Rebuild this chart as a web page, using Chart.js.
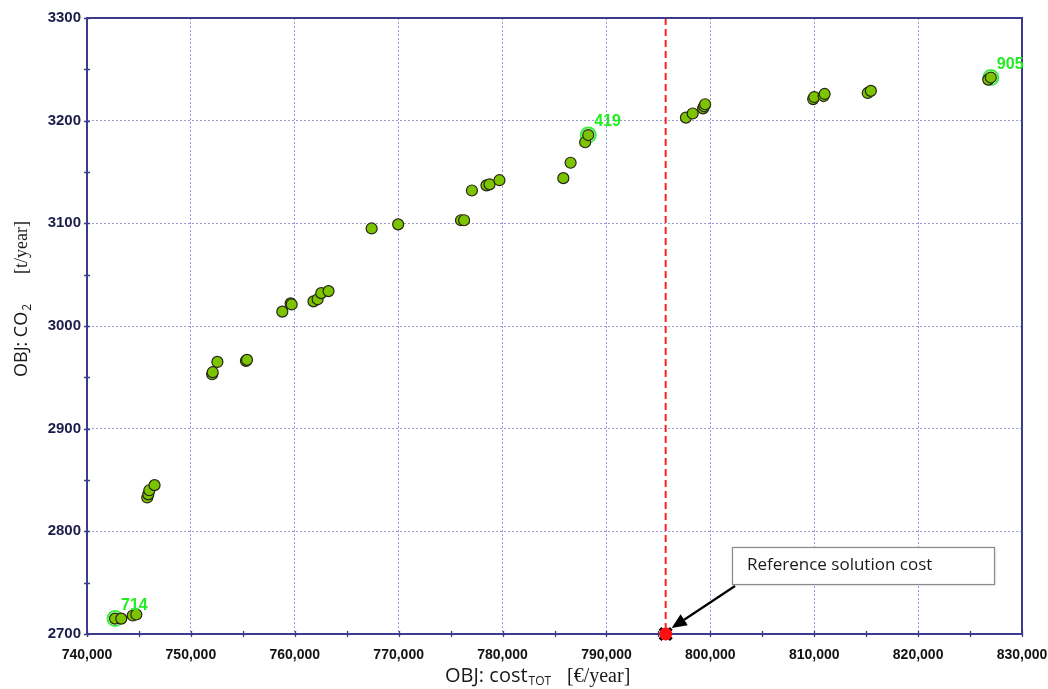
<!DOCTYPE html>
<html>
<head>
<meta charset="utf-8">
<script src="https://cdn.jsdelivr.net/npm/chart.js@4.4.1/dist/chart.umd.min.js"></script>
<style>
  html, body { margin: 0; padding: 0; background: #ffffff; }
  #wrap { width: 1048px; height: 689px; position: relative; }
</style>
</head>
<body>
<div id="wrap"><canvas id="chart" width="1048" height="689"></canvas></div>
<script>
// Pareto front of the optimisation: total cost vs CO2 emissions
const solutionCost = [
  742700, 743300, 744400, 744750,
  745800, 745900, 746000, 746500,
  752050, 752100, 752550, 755300, 755400,
  758800, 759600, 759700, 761800, 762200, 762550, 763250,
  767400, 769950, 776000, 776300, 777050, 778450, 778750, 779700,
  785850, 786550, 787950, 788250,
  797650, 798300, 799300, 799400, 799500,
  809900, 810000, 810900, 811000, 815150, 815450,
  826750, 827000
];
const solutionCO2 = [
  2715, 2715, 2718, 2719,
  2833, 2836, 2840, 2845,
  2953, 2955, 2965, 2966, 2967,
  3014, 3022, 3021, 3024, 3026, 3032, 3034,
  3095, 3099, 3103, 3103, 3132, 3137, 3138, 3142,
  3144, 3159, 3179, 3186,
  3203, 3207, 3212, 3214, 3216,
  3221, 3223, 3224, 3226, 3227, 3229,
  3240, 3242
];

// Solutions picked out with their identifiers
const labeledIds = ['714', '419', '905'];
const labeledCost = [742700, 788250, 827000];
const labeledCO2 = [2715, 3186, 3242];

// Cost of the reference solution
const referenceCost = [795700];
const referenceCO2 = [2700];

// Axis ranges
const costMin = 740000, costMax = 830000, costMajor = 10000, costMinor = 5000;
const co2Min = 2700, co2Max = 3300, co2Major = 100, co2Minor = 50;

const referenceText = 'Reference solution cost';

const AXIS_COLOR = '#3c3c8a';
const GRID_COLOR = '#9c9cd4';
const POINT_FILL = '#7cc300';
const POINT_EDGE = '#262618';
const ID_COLOR = '#1fee1f';

const toPoints = (xs, ys) => xs.map((v, i) => ({ x: v, y: ys[i] }));

const decorations = {
  id: 'decorations',
  beforeDatasetsDraw(chart) {
    const { ctx, chartArea: a, scales: { x } } = chart;
    const px = x.getPixelForValue(referenceCost[0]);
    ctx.save();
    ctx.strokeStyle = '#ff2020';
    ctx.lineWidth = 2;
    ctx.setLineDash([7, 4]);
    ctx.beginPath();
    ctx.moveTo(px, a.top);
    ctx.lineTo(px, a.bottom);
    ctx.stroke();
    ctx.restore();
  },
  afterDraw(chart) {
    const { ctx, chartArea: a, scales: { x, y } } = chart;
    ctx.save();

    // top and right frame
    ctx.strokeStyle = AXIS_COLOR;
    ctx.lineWidth = 2;
    ctx.beginPath();
    ctx.moveTo(a.left, a.top);
    ctx.lineTo(a.right, a.top);
    ctx.lineTo(a.right, a.bottom);
    ctx.stroke();

    // short tick marks across both axes
    ctx.lineWidth = 1.3;
    ctx.beginPath();
    x.ticks.forEach(t => {
      const px = Math.round(x.getPixelForValue(t.value)) + 0.5;
      ctx.moveTo(px, a.bottom - 3);
      ctx.lineTo(px, a.bottom + 3);
    });
    y.ticks.forEach(t => {
      const py = Math.round(y.getPixelForValue(t.value)) + 0.5;
      ctx.moveTo(a.left - 3, py);
      ctx.lineTo(a.left + 3, py);
    });
    ctx.stroke();

    // identifiers of the highlighted solutions
    const meta = chart.getDatasetMeta(0);
    ctx.fillStyle = ID_COLOR;
    ctx.font = 'bold 16px "Liberation Sans", Arial, sans-serif';
    ctx.textBaseline = 'middle';
    ctx.textAlign = 'left';
    meta.data.forEach((el, i) => {
      ctx.fillText(labeledIds[i], el.x + 6, el.y - 13);
    });

    // y-axis title
    ctx.fillStyle = '#1a1a1a';
    ctx.save();
    ctx.translate(27, 377);
    ctx.rotate(-Math.PI / 2);
    ctx.textBaseline = 'alphabetic';
    ctx.font = '18px "Open Sans", sans-serif';
    const yMain = 'OBJ: CO';
    ctx.fillText(yMain, 0, 0);
    let w = ctx.measureText(yMain).width;
    ctx.font = '12px "Open Sans", sans-serif';
    ctx.fillText('2', w + 1, 4);
    ctx.font = '18px "Liberation Serif", serif';
    const yUnit = '[t/year]';
    const uw = ctx.measureText(yUnit).width;
    ctx.fillText(yUnit, 156 - uw, 0);
    ctx.restore();

    // x-axis title
    ctx.textBaseline = 'alphabetic';
    ctx.font = '20px "Open Sans", sans-serif';
    const xMain = 'OBJ: cost';
    ctx.fillText(xMain, 445, 682);
    w = ctx.measureText(xMain).width;
    ctx.font = '12px "Open Sans", sans-serif';
    ctx.fillText('TOT', 445 + w + 1, 685);
    ctx.font = '20px "Liberation Serif", serif';
    ctx.fillText('[€/year]', 567, 682);

    // callout box with arrow to the reference point
    const bx = 732, by = 547, bw = 262, bh = 37;
    ctx.fillStyle = '#ffffff';
    ctx.shadowColor = 'rgba(0,0,0,0.18)';
    ctx.shadowBlur = 3;
    ctx.shadowOffsetX = 1;
    ctx.shadowOffsetY = 1;
    ctx.fillRect(bx, by, bw, bh);
    ctx.shadowColor = 'transparent';
    ctx.strokeStyle = '#8a8a8a';
    ctx.lineWidth = 1.2;
    ctx.strokeRect(bx + 0.5, by + 0.5, bw, bh);
    ctx.fillStyle = '#1a1a1a';
    ctx.font = '17px "Open Sans", sans-serif';
    ctx.textBaseline = 'middle';
    ctx.fillText(referenceText, bx + 15, by + bh / 2);

    const tipX = x.getPixelForValue(referenceCost[0]) + 6;
    const tipY = y.getPixelForValue(referenceCO2[0]) - 6;
    const sx = bx + 3, sy = by + bh + 2;
    const ang = Math.atan2(tipY - sy, tipX - sx);
    const head = 15, half = 6.5;
    const baseX = tipX - head * Math.cos(ang), baseY = tipY - head * Math.sin(ang);
    ctx.strokeStyle = '#000000';
    ctx.lineWidth = 2.2;
    ctx.beginPath();
    ctx.moveTo(sx, sy);
    ctx.lineTo(baseX, baseY);
    ctx.stroke();
    ctx.fillStyle = '#000000';
    ctx.beginPath();
    ctx.moveTo(tipX, tipY);
    ctx.lineTo(baseX + half * Math.sin(ang), baseY - half * Math.cos(ang));
    ctx.lineTo(baseX - half * Math.sin(ang), baseY + half * Math.cos(ang));
    ctx.closePath();
    ctx.fill();

    ctx.restore();
  }
};

new Chart(document.getElementById('chart'), {
  type: 'scatter',
  data: {
    datasets: [
      {
        label: 'highlighted',
        data: toPoints(labeledCost, labeledCO2),
        pointRadius: 7.5,
        pointBackgroundColor: 'rgba(0,0,0,0)',
        pointBorderColor: '#3af03a',
        pointBorderWidth: 2,
        order: 3
      },
      {
        label: 'solutions',
        data: toPoints(solutionCost, solutionCO2),
        pointRadius: 5.5,
        pointBackgroundColor: POINT_FILL,
        pointBorderColor: POINT_EDGE,
        pointBorderWidth: 1.2,
        order: 2
      },
      {
        label: 'reference edge',
        data: toPoints(referenceCost, referenceCO2),
        pointStyle: 'crossRot',
        pointRadius: 8,
        pointBorderColor: '#000000',
        pointBorderWidth: 4,
        clip: false,
        order: 1
      },
      {
        label: 'reference',
        data: toPoints(referenceCost, referenceCO2),
        pointRadius: 6.5,
        pointBackgroundColor: '#ff1010',
        pointBorderColor: '#ff1010',
        pointBorderWidth: 0,
        clip: false,
        order: 0
      }
    ]
  },
  options: {
    responsive: false,
    devicePixelRatio: 1,
    animation: false,
    events: [],
    layout: { padding: { top: 18, right: 26, left: 0, bottom: 0 } },
    plugins: { legend: { display: false }, tooltip: { enabled: false } },
    scales: {
      x: {
        type: 'linear',
        min: costMin,
        max: costMax,
        afterFit(scale) {
          scale.height = 55;
          scale.paddingLeft = 0;
          scale.paddingRight = 0;
        },
        border: { display: true, color: AXIS_COLOR, width: 2, dash: [2, 2] },
        grid: {
          drawTicks: false,
          lineWidth: 1,
          color: ctx => (ctx.tick && ctx.tick.value % costMajor === 0) ? GRID_COLOR : 'rgba(0,0,0,0)'
        },
        ticks: {
          stepSize: costMinor,
          autoSkip: false,
          maxRotation: 0,
          padding: 13,
          color: '#111111',
          font: { family: '"Liberation Sans", Arial, sans-serif', size: 14, weight: 'bold' },
          callback: v => (v % costMajor === 0) ? v.toLocaleString('en-US') : ''
        }
      },
      y: {
        type: 'linear',
        min: co2Min,
        max: co2Max,
        afterFit(scale) {
          scale.width = 87;
          scale.paddingTop = 0;
          scale.paddingBottom = 0;
        },
        border: { display: true, color: AXIS_COLOR, width: 2, dash: [2, 2] },
        grid: {
          drawTicks: false,
          lineWidth: 1,
          color: ctx => (ctx.tick && ctx.tick.value % co2Major === 0) ? GRID_COLOR : 'rgba(0,0,0,0)'
        },
        ticks: {
          stepSize: co2Minor,
          autoSkip: false,
          padding: 6,
          color: '#1c1c4a',
          font: { family: '"Liberation Sans", Arial, sans-serif', size: 15, weight: 'bold' },
          callback: v => (v % co2Major === 0) ? String(v) : ''
        }
      }
    }
  },
  plugins: [decorations]
});
</script>
</body>
</html>
